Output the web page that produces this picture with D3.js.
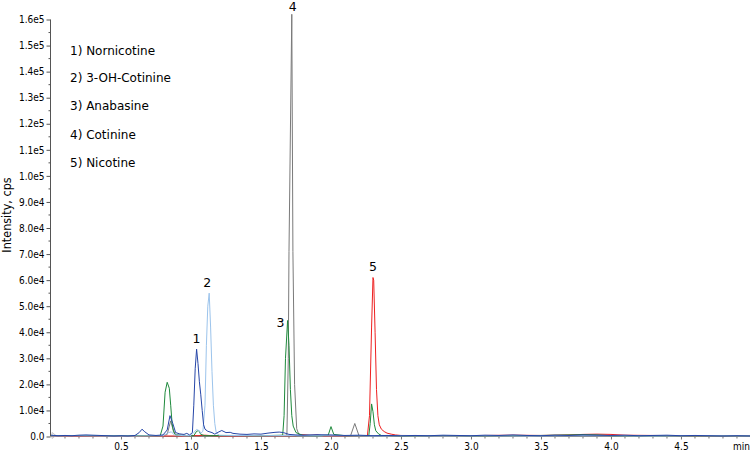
<!DOCTYPE html>
<html>
<head>
<meta charset="utf-8">
<script src="https://cdn.jsdelivr.net/npm/d3@7/dist/d3.min.js"></script>
<style>
  html, body { margin: 0; padding: 0; background: #fff; }
  svg { display: block; }
  .tick text { font-family: "DejaVu Sans Condensed", "DejaVu Sans", sans-serif; }
</style>
</head>
<body>
<svg id="chart" width="750" height="451"></svg>
<script>
// ---- Data (time in min, intensity in cps) ----
const compounds = ["1) Nornicotine", "2) 3-OH-Cotinine", "3) Anabasine", "4) Cotinine", "5) Nicotine"];
const peakLabels = ["1", "2", "3", "4", "5"];
const yTickValues = [0, 1e4, 2e4, 3e4, 4e4, 5e4, 6e4, 7e4, 8e4, 9e4, 1e5, 1.1e5, 1.2e5, 1.3e5, 1.4e5, 1.5e5, 1.6e5];
const yTickLabels = ["0.0", "1.0e4", "2.0e4", "3.0e4", "4.0e4", "5.0e4", "6.0e4", "7.0e4", "8.0e4", "9.0e4", "1.0e5", "1.1e5", "1.2e5", "1.3e5", "1.4e5", "1.5e5", "1.6e5"];
const xTickValues = [0.5, 1.0, 1.5, 2.0, 2.5, 3.0, 3.5, 4.0, 4.5];

const nornicotine = [[0,500],[0.05,300],[0.1,400],[0.15,300],[0.2,500],[0.25,600],[0.3,500],[0.35,400],[0.4,300],[0.45,200],[0.5,300],[0.55,200],[0.6,400],[0.63,1500],[0.65,2800],[0.67,1800],[0.7,600],[0.75,400],[0.8,600],[0.83,2500],[0.85,8000],[0.87,5000],[0.89,1500],[0.92,1000],[0.95,800],[0.97,1200],[0.99,600],[1.01,1500],[1.02,12000],[1.03,26000],[1.04,33500],[1.05,28000],[1.06,21000],[1.07,16000],[1.08,10000],[1.09,4500],[1.1,2800],[1.12,2000],[1.15,1500],[1.17,900],[1.2,1800],[1.22,2300],[1.25,1500],[1.28,1600],[1.3,1200],[1.35,900],[1.4,800],[1.45,1000],[1.5,900],[1.55,1300],[1.6,1600],[1.63,1700],[1.66,1500],[1.7,800],[1.75,600],[1.8,500],[1.9,700],[2.0,600],[2.1,400],[2.2,500],[2.3,300],[2.4,400],[2.5,300],[2.6,400],[2.7,300],[2.8,500],[2.9,400],[3.0,300],[3.1,500],[3.2,400],[3.3,600],[3.4,400],[3.5,300],[3.6,500],[3.7,400],[3.8,600],[3.9,500],[4.0,400],[4.1,500],[4.2,300],[4.3,400],[4.4,500],[4.5,300],[4.6,400],[4.7,300],[4.8,200],[4.9,300],[5.0,200]];
const hydroxyCotinine = [[0,200],[0.2,300],[0.4,200],[0.6,200],[0.8,300],[0.84,1500],[0.86,1800],[0.88,600],[0.95,300],[1.0,400],[1.02,1500],[1.04,2700],[1.06,2200],[1.07,1200],[1.085,2000],[1.1,12000],[1.11,35000],[1.12,50000],[1.13,55000],[1.14,42000],[1.15,25000],[1.16,12000],[1.17,5000],[1.18,1500],[1.2,500],[1.3,400],[1.5,300],[1.7,400],[1.9,300],[2.1,300],[2.3,200],[2.5,300],[2.8,200],[3.1,300],[3.4,200],[3.7,300],[4.0,300],[4.3,200],[4.6,300],[5.0,200]];
const anabasine = [[0,300],[0.2,400],[0.4,300],[0.6,300],[0.78,300],[0.8,4000],[0.815,17000],[0.83,20800],[0.845,18500],[0.855,12000],[0.865,5000],[0.875,1800],[0.89,600],[0.95,400],[1.02,300],[1.04,2000],[1.055,2300],[1.07,800],[1.1,300],[1.3,400],[1.5,300],[1.655,500],[1.665,8000],[1.675,30000],[1.69,44500],[1.7,35000],[1.71,18000],[1.72,8000],[1.73,4000],[1.75,1500],[1.8,400],[1.9,300],[1.98,500],[2.0,3800],[2.02,800],[2.1,300],[2.27,300],[2.28,5000],[2.29,12500],[2.3,9500],[2.31,4500],[2.32,2200],[2.34,1000],[2.36,400],[2.5,300],[3.0,300],[3.5,400],[3.8,700],[3.9,600],[4.0,300],[4.5,300],[5.0,200]];
const cotinine = [[0,200],[0.4,300],[0.8,300],[0.83,800],[0.845,4000],[0.855,6000],[0.87,3000],[0.89,600],[1.0,300],[1.3,300],[1.6,300],[1.685,500],[1.695,30000],[1.7,71000],[1.72,162000],[1.728,71000],[1.74,20000],[1.755,3000],[1.77,800],[1.9,300],[2.14,300],[2.17,5000],[2.2,300],[2.5,200],[3.0,300],[3.5,200],[4.0,300],[4.5,200],[5.0,200]];
const nicotine = [[0,200],[0.5,200],[0.95,200],[1.0,400],[1.05,300],[1.1,500],[1.15,300],[1.2,200],[1.75,300],[1.8,600],[1.85,400],[1.9,600],[1.95,200],[2.26,300],[2.275,8000],[2.29,42000],[2.3,61000],[2.305,60000],[2.315,40000],[2.325,18000],[2.335,8000],[2.345,4500],[2.36,2800],[2.38,1900],[2.4,1300],[2.43,900],[2.46,600],[2.5,400],[2.8,300],[3.1,400],[3.3,500],[3.5,400],[3.7,600],[3.8,800],[3.9,900],[4.0,800],[4.1,500],[4.3,400],[4.6,300],[5.0,200]];

const seriesData = [nornicotine, hydroxyCotinine, anabasine, cotinine, nicotine];
const seriesColors = ["#2646a8", "#9cc4ec", "#1e8a3c", "#7a7a7a", "#ee2020"];
const drawOrder = [3, 4, 2, 1, 0];

// ---- Layout ----
const svg = d3.select("#chart");
const x = d3.scaleLinear().domain([0, 4.993]).range([51, 750]);
const y = d3.scaleLinear().domain([0, 1.6e5]).range([436.5, 19.5]);

// Y axis
const yAxis = d3.axisLeft(y).tickValues(yTickValues).tickFormat((d, i) => yTickLabels[i]).tickSize(4).tickPadding(2);
const gy = svg.append("g").attr("transform", "translate(50.5,0)").call(yAxis);
gy.select(".domain").attr("stroke", "#555").attr("d", "M0," + y(1.6e5) + "V" + y(0));
gy.selectAll(".tick line").attr("stroke", "#555");
gy.selectAll(".tick text").attr("font-size", 10).attr("fill", "#000");
const yMinor = d3.range(0, 16).map(i => i * 1e4 + 5e3);
gy.selectAll(".minor").data(yMinor).enter().append("line")
  .attr("x1", -2).attr("x2", 0).attr("y1", d => y(d)).attr("y2", d => y(d)).attr("stroke", "#555");

// X axis
const xAxis = d3.axisBottom(x).tickValues(xTickValues).tickFormat(d3.format(".1f")).tickSize(3).tickPadding(3);
const gx = svg.append("g").attr("transform", "translate(0,436.5)").call(xAxis);
gx.select(".domain").attr("stroke", "#888").attr("d", "M51,0H750");
gx.selectAll(".tick line").attr("stroke", "#777");
gx.selectAll(".tick text").attr("font-size", 10).attr("fill", "#000");
const xMinor = d3.range(1, 50).map(i => i / 10).filter(v => Math.abs(v * 2 - Math.round(v * 2)) > 1e-6);
gx.selectAll(".minor").data(xMinor).enter().append("line")
  .attr("x1", d => x(d)).attr("x2", d => x(d)).attr("y1", 0).attr("y2", 2).attr("stroke", "#777");

svg.append("text").attr("x", 733).attr("y", 450)
  .attr("font-family", "DejaVu Sans Condensed, DejaVu Sans, sans-serif").attr("font-size", 10).text("min");

svg.append("text")
  .attr("transform", "translate(11,215) rotate(-90)")
  .attr("text-anchor", "middle")
  .attr("font-family", "DejaVu Sans Condensed, DejaVu Sans, sans-serif").attr("font-size", 12.5)
  .text("Intensity, cps");

// small cursor marker at origin
svg.append("path").attr("d", "M52,432.5L56,435.5L52,438.5Z").attr("fill", "none").attr("stroke", "#bbb").attr("stroke-width", 0.8);

// Traces
const line = d3.line().x(d => x(d[0])).y(d => y(d[1]));
drawOrder.forEach(i => {
  svg.append("path").datum(seriesData[i])
    .attr("fill", "none").attr("stroke", seriesColors[i]).attr("stroke-width", 1)
    .attr("stroke-linejoin", "round").attr("d", line);
});

// Peak labels
const labelOffsets = [[0, -6], [-2, -6], [-7, 6], [1, -8], [0, -7]];
seriesData.forEach((s, i) => {
  const top = s.reduce((a, b) => (b[1] > a[1] ? b : a));
  svg.append("text")
    .attr("x", x(top[0]) + labelOffsets[i][0]).attr("y", Math.max(11, y(top[1]) + labelOffsets[i][1]))
    .attr("text-anchor", "middle")
    .attr("font-family", "DejaVu Sans, sans-serif").attr("font-size", 12.5)
    .text(peakLabels[i]);
});

// Legend
const legendY = [51, 78, 106, 135, 163];
svg.selectAll(".legend").data(compounds).enter().append("text")
  .attr("x", 70).attr("y", (d, i) => legendY[i] + 4)
  .attr("font-family", "DejaVu Sans, sans-serif").attr("font-size", 12)
  .text(d => d);
</script>
</body>
</html>
